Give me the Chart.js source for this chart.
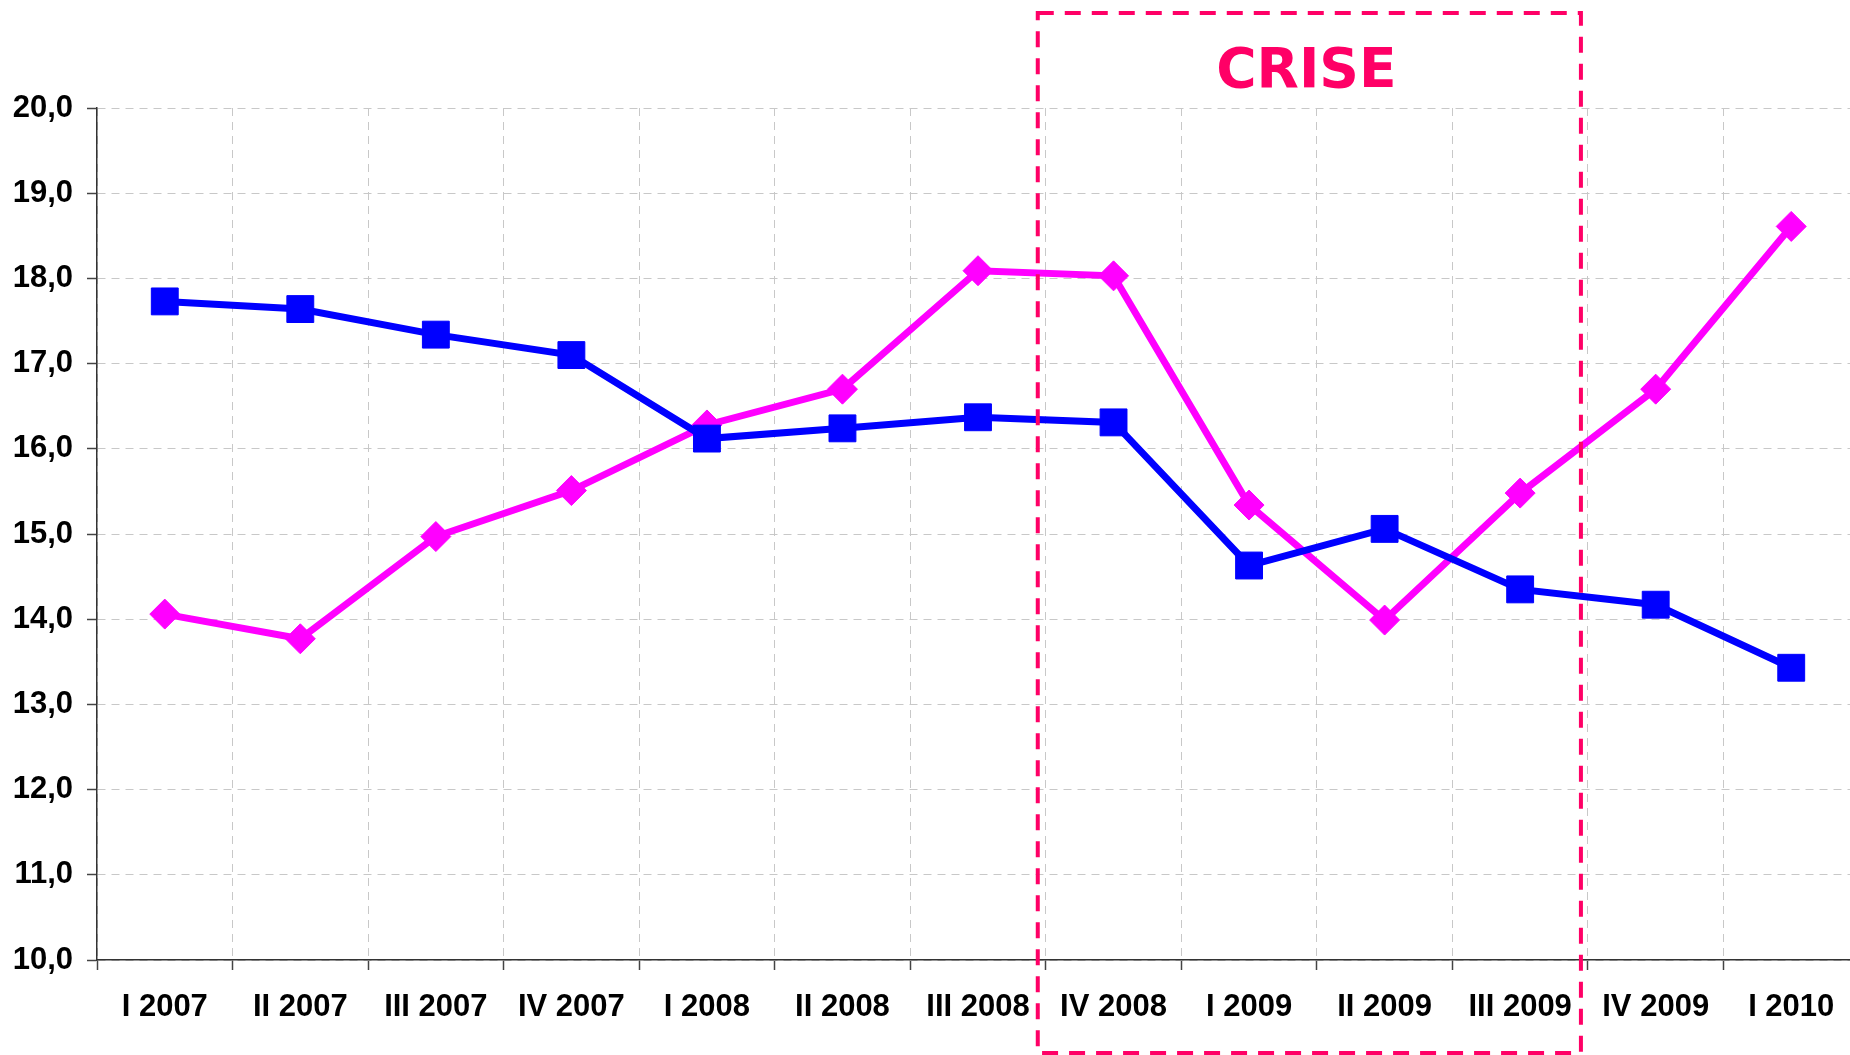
<!DOCTYPE html>
<html>
<head>
<meta charset="utf-8">
<script src="https://cdn.jsdelivr.net/npm/chart.js@4/dist/chart.umd.min.js"></script>
<style>
  html, body { margin: 0; padding: 0; background: #fff; overflow: hidden; }
  #chart { position: absolute; left: 0; top: 0; }
</style>
</head>
<body>
<canvas id="chart" width="1870" height="1055"></canvas>
<script>
const quarters = ['I 2007', 'II 2007', 'III 2007', 'IV 2007', 'I 2008', 'II 2008', 'III 2008',
  'IV 2008', 'I 2009', 'II 2009', 'III 2009', 'IV 2009', 'I 2010'];
const blueSeries = [17.73, 17.64, 17.34, 17.10, 16.12, 16.24, 16.37, 16.31, 14.63, 15.06, 14.35, 14.17, 13.43];
const pinkSeries = [14.06, 13.77, 14.97, 15.51, 16.28, 16.70, 18.09, 18.03, 15.34, 13.99, 15.48, 16.70, 18.61];
const crisisFrom = 'IV 2008';
const crisisTo = 'III 2009';
const crisisLabel = 'CRISE';

const tickFont = { family: '"Liberation Sans", Arial, sans-serif', size: 31, weight: 'bold' };

// dashed box around the crisis quarters
const crisisBox = {
  id: 'crisisBox',
  afterDatasetsDraw(chart) {
    const x = chart.scales.x;
    const ctx = chart.ctx;
    const half = (x.getPixelForValue(1) - x.getPixelForValue(0)) / 2;
    const left = x.getPixelForValue(quarters.indexOf(crisisFrom)) - half - 8;
    const right = x.getPixelForValue(quarters.indexOf(crisisTo)) + half - 7;
    const top = chart.chartArea.top - 95;
    const bottom = chart.chartArea.bottom + 93;
    ctx.save();
    ctx.strokeStyle = '#ff0066';
    ctx.lineWidth = 4;
    ctx.setLineDash([16, 11]);
    ctx.strokeRect(left, top, right - left, bottom - top);
    ctx.setLineDash([]);
    ctx.fillStyle = '#ff0066';
    ctx.font = 'bold 55px "DejaVu Sans", Verdana, sans-serif';
    ctx.textAlign = 'center';
    ctx.textBaseline = 'middle';
    ctx.fillText(crisisLabel, (left + right) / 2 - 3, top + 60);
    ctx.restore();
  }
};

new Chart(document.getElementById('chart'), {
  type: 'line',
  data: {
    labels: quarters,
    datasets: [
      {
        data: blueSeries,
        borderColor: '#0000ff',
        backgroundColor: '#0000ff',
        borderWidth: 7,
        pointStyle: 'rect',
        pointRadius: 19,
        pointBorderWidth: 1,
        tension: 0
      },
      {
        data: pinkSeries,
        borderColor: '#ff00ff',
        backgroundColor: '#ff00ff',
        borderWidth: 7,
        pointStyle: 'rectRot',
        pointRadius: 15,
        pointBorderWidth: 1,
        tension: 0
      }
    ]
  },
  options: {
    responsive: false,
    animation: false,
    layout: { autoPadding: false, padding: { top: 108, right: 11, left: 0, bottom: 0 } },
    plugins: {
      legend: { display: false },
      tooltip: { enabled: false }
    },
    scales: {
      x: {
        offset: true,
        afterFit: (s) => { s.height = 95; },
        grid: {
          offset: true,
          color: '#c8c8c8',
          lineWidth: 1,
          tickLength: 10,
          tickColor: '#444',
          tickWidth: 1.5
        },
        border: { color: '#333', width: 1.5, dash: [8, 6] },
        ticks: {
          color: '#000',
          font: tickFont,
          padding: 19,
          autoSkip: false,
          maxRotation: 0
        }
      },
      y: {
        min: 10,
        max: 20,
        afterFit: (s) => { s.width = 97; },
        grid: {
          color: '#c8c8c8',
          lineWidth: 1,
          tickLength: 10,
          tickColor: '#444',
          tickWidth: 1.5
        },
        border: { color: '#333', width: 1.5, dash: [8, 6] },
        ticks: {
          stepSize: 1,
          color: '#000',
          font: tickFont,
          padding: 14,
          callback: (v) => v.toFixed(1).replace('.', ',')
        }
      }
    }
  },
  plugins: [crisisBox]
});
</script>
</body>
</html>
